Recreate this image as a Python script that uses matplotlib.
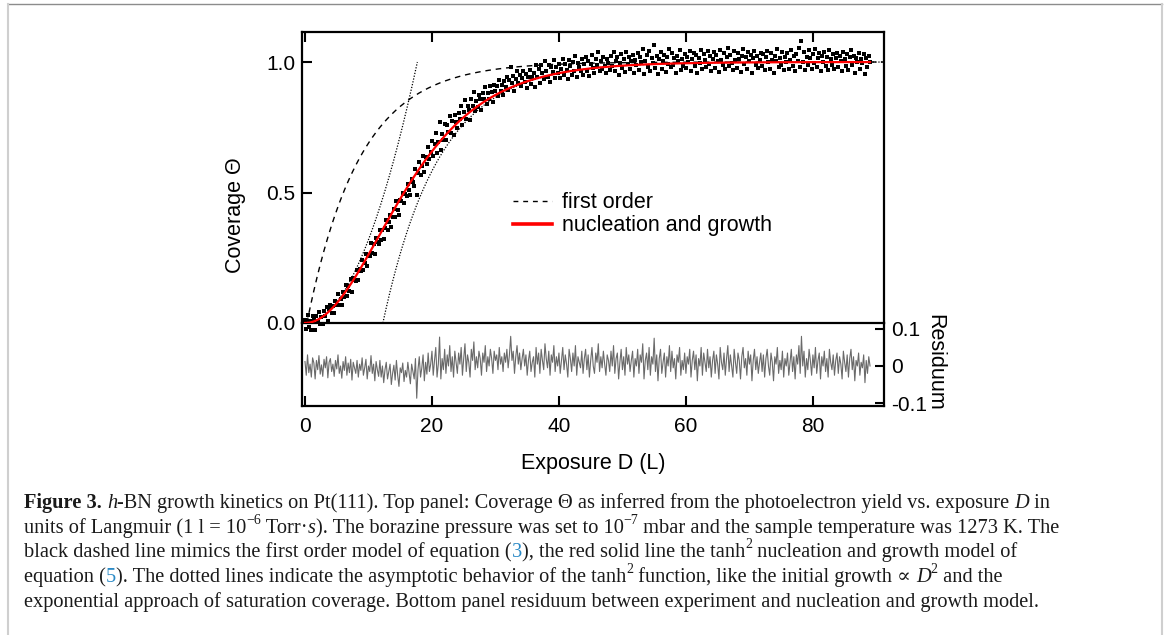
import numpy as np
import matplotlib
matplotlib.use("Agg")
import matplotlib.pyplot as plt
from matplotlib.lines import Line2D

plt.rcParams['font.family'] = ['Liberation Sans', 'DejaVu Sans']

d_start, d_end = 0.0, 89.0
D0 = 17.7          # tanh^2 nucleation and growth constant (L)
tau = 8.3          # first order constant (L)
d_off = 0.3        # first order onset (L)

# residuum (data - nucleation model), in units of 1e-3, every 0.2 L
residuum_milli = [
    12, -25, 30, -18, 5, -30, 22, 8, -35, 15, -10, 28, -22, 3, -28, 18, -5, 25, -32, 10,
    20, -15, 5, -28, 15, -8, 30, -20, 0, -33, 12, -12, 25, -25, 8, -18, 18, -38, 10, -5,
    -20, 15, -30, 5, -12, 22, -25, -5, 18, -35, 0, -15, 28, -20, 5, -40, 12, -10, -28, 15,
    -30, 0, -45, -10, 10, -35, -15, 5, -50, -20, 2, -38, 15, -25, -55, -5, -18, 8, -42, -12,
    -30, 10, -20, -48, 5, -15, -35, 20, -87, -10, 25, -30, -5, 30, -40, 10, -22, 35, -15, 5,
    40, -25, 15, 50, -30, 5, 78, -35, 20, -10, 45, -20, 30, 0, 55, -15, 25, -30, 40, 10,
    -20, 35, 5, 50, -25, 20, 60, -15, 30, 10, -30, 45, 15, 65, -10, 25, -5, 40, 20, -25,
    35, 10, 55, -15, 25, 0, 45, 20, -20, 40, 15, 30, -10, 50, 5, 25, -15, 35, 10, 45,
    -5, 30, 80, 15, 40, -20, 25, 55, 5, 35, -10, 20, 45, 0, 30, -25, 15, 40, -15, 10,
    25, -30, 50, 5, 35, -20, 45, 15, -10, 60, 20, -5, 40, -25, 30, 10, 55, -15, 25, 0,
    35, -20, 15, 50, -10, 30, 5, -30, 45, 20, -15, 35, 0, 55, -25, 25, 10, -5, 40, -20,
    20, 45, -10, 30, -30, 15, 50, 0, -20, 35, 10, 60, -15, 25, -5, 40, 5, -25, 30, 15,
    -15, 40, 0, 55, -20, 20, 35, -35, 10, 45, -10, 25, -25, 50, 5, 30, -15, 15, 40, -30,
    20, 0, 45, -20, 30, 10, 60, -35, 15, 35, -10, 50, -25, 25, 5, 75, -15, 30, -40, 20,
    45, -20, 10, 35, -30, 25, 0, 55, -15, 40, -5, 20, -35, 30, 10, 50, -25, 15, -10, 35,
    -20, 25, 5, 45, -30, 15, 40, -10, 30, -40, 20, 0, 50, -25, 35, 10, -15, 45, -5, 25,
    -30, 15, 40, -20, 30, 5, -35, 50, 10, -10, 35, -25, 20, 55, -15, 30, 0, -30, 45, 10,
    -20, 35, 15, -35, 25, 50, -5, 20, -25, 40, 5, 30, -40, 15, 45, -10, 25, -20, 10, 35,
    -15, 30, -30, 20, 45, 0, -25, 35, 10, -40, 25, 5, 50, -20, 15, -10, 40, -30, 20, 0,
    35, -25, 10, 45, -15, 25, -35, 30, 5, 55, -20, 80, 0, 40, -30, 20, -10, 45, 15, -25,
    30, -5, 50, -20, 15, 35, -35, 25, 0, 40, -15, 20, -30, 45, 10, -10, 30, -25, 15, 35,
    -20, 25, 5, -35, 40, 10, -15, 30, -30, 20, 45, -10, 25, -40, 15, 0, 35, -25, 10, -5,
    30, -45, 15, -20, 25, 0,
]

x_ticks = [0, 20, 40, 60, 80]
cov_ticks = [0.0, 0.5, 1.0]
cov_labels = ['0.0', '0.5', '1.0']
res_ticks = [-0.1, 0.0, 0.1]
res_labels = ['-0.1', '0', '0.1']
legend_labels = ['first order', 'nucleation and growth']

residuum = np.array(residuum_milli) / 1000.0
exposure = np.linspace(d_start, d_end, len(residuum))


def nucleation(d):
    return np.tanh(d / D0) ** 2


coverage = nucleation(exposure) + residuum

d_fine = np.linspace(d_start, d_end, 500)
d_first = np.linspace(d_off, 91.2, 500)
first_order = 1 - np.exp(-(d_first - d_off) / tau)
d_init = np.linspace(0, D0, 200)
init_growth = (d_init / D0) ** 2
d_sat = np.linspace(D0 * np.log(2), 91.2, 300)
sat_approach = 1 - 4 * np.exp(-2 * d_sat / D0)

W, H = 1167, 635
fig = plt.figure(figsize=(W / 100, H / 100), dpi=100)

ax_bot = fig.add_axes([302 / W, 1 - 406 / H, 582 / W, 83 / H])
ax_top = fig.add_axes([302 / W, 1 - 323 / H, 582 / W, 291 / H])
ax_top.set_zorder(3)
ax_top.patch.set_visible(False)

xlim = (-0.47, 91.2)

# top panel
ax_top.plot(d_first, first_order, color='black', lw=1.0, dashes=(4, 3.5))
ax_top.plot(d_init, init_growth, color='black', lw=0.9, dashes=(1, 1.3))
ax_top.plot(d_sat, sat_approach, color='black', lw=0.9, dashes=(1, 1.3))
ax_top.plot(exposure, coverage, 's', color='black', ms=2.5, mew=0, clip_on=False)
ax_top.plot(d_fine, nucleation(d_fine), color='red', lw=1.6)
ax_top.set_xlim(xlim)
ax_top.set_ylim(0, 1.115)
ax_top.set_xticks(x_ticks)
ax_top.set_yticks(cov_ticks)
ax_top.set_yticklabels(cov_labels)
ax_top.tick_params(axis='x', which='both', direction='in', top=True, bottom=False,
                   labeltop=False, labelbottom=False, length=7, width=1.5)
ax_top.tick_params(axis='y', direction='in', left=True, right=False, length=7, width=1.5,
                   labelsize=15, pad=5)
for s in ax_top.spines.values():
    s.set_linewidth(1.6)
ax_top.spines['bottom'].set_visible(False)

handles = [Line2D([0], [0], color='black', lw=1.0, dashes=(3.5, 3.5)),
           Line2D([0], [0], color='red', lw=2.6)]
ax_top.legend(handles, legend_labels, loc='upper left', bbox_to_anchor=(0.3625, 0.449),
              frameon=False, fontsize=15.5, handlelength=1.8, handletextpad=0.5,
              borderpad=0, borderaxespad=0, labelspacing=0.1)

# bottom panel
ax_bot.plot(exposure, residuum, color='#6a6a6a', lw=0.8)
ax_bot.set_xlim(xlim)
ax_bot.set_ylim(-0.108, 0.116)
ax_bot.set_xticks(x_ticks)
ax_bot.set_yticks(res_ticks)
ax_bot.set_yticklabels(res_labels)
ax_bot.yaxis.tick_right()
ax_bot.tick_params(axis='x', direction='in', length=7, width=1.5, labelsize=15, pad=8)
ax_bot.tick_params(axis='y', direction='in', length=6.5, width=1.5, labelsize=15, pad=5)
for s in ax_bot.spines.values():
    s.set_linewidth(1.6)

fig.text(235 / W, 1 - 215 / H, 'Coverage Θ', rotation=90, ha='center', va='center',
         fontsize=15.5)
fig.text(935 / W, 1 - 362 / H, 'Residuum', rotation=-90, ha='center', va='center',
         fontsize=15.5)
fig.text(593 / W, 1 - 463 / H, 'Exposure D (L)', ha='center', va='center', fontsize=15.5)

# frame around figure + caption
fig.add_artist(Line2D([8 / W, 1162 / W], [1 - 4 / H, 1 - 4 / H], color='#8c8c8c', lw=1.0))
fig.add_artist(Line2D([7.5 / W, 7.5 / W], [0, 1 - 4 / H], color='#cfcfcf', lw=1.5))
fig.add_artist(Line2D([1162 / W, 1162 / W], [0, 1 - 4 / H], color='#cfcfcf', lw=1.5))

serif = ['Liberation Serif', 'DejaVu Serif']
cap_size = 14.7
blue = '#2b8ac6'
caption_lines = [
    [('Figure 3.', 'b'), (' ', 'n'), ('h', 'i'),
     ('-BN growth kinetics on Pt(111). Top panel: Coverage Θ as inferred from the '
      'photoelectron yield vs. exposure ', 'n'), ('D', 'i'), (' in', 'n')],
    [('units of Langmuir (1 l = 10', 'n'), ('−6', 's'), (' Torr·', 'n'), ('s', 'i'),
     ('). The borazine pressure was set to 10', 'n'), ('−7', 's'),
     (' mbar and the sample temperature was 1273 K. The', 'n')],
    [('black dashed line mimics the first order model of equation (', 'n'), ('3', 'c'),
     ('), the red solid line the tanh', 'n'), ('2', 's'),
     (' nucleation and growth model of', 'n')],
    [('equation (', 'n'), ('5', 'c'),
     ('). The dotted lines indicate the asymptotic behavior of the tanh', 'n'), ('2', 's'),
     (' function, like the initial growth ∝ ', 'n'), ('D', 'i'), ('2', 's'),
     (' and the', 'n')],
    [('exponential approach of saturation coverage. Bottom panel residuum between '
      'experiment and nucleation and growth model.', 'n')],
]
baselines = [508, 533, 557, 582, 607]

renderer = fig.canvas.get_renderer()


def text_width(s, **kw):
    t = fig.text(0, 0, '|' + s + '|', **kw)
    w1 = t.get_window_extent(renderer).width
    t.remove()
    t = fig.text(0, 0, '||', **kw)
    w2 = t.get_window_extent(renderer).width
    t.remove()
    return w1 - w2


for runs, base in zip(caption_lines, baselines):
    x = 24.0
    for txt, kind in runs:
        kw = dict(family=serif, fontsize=cap_size, color='#1a1a1a')
        dy = 0.0
        if kind == 'b':
            kw['weight'] = 'bold'
        elif kind == 'i':
            kw['style'] = 'italic'
        elif kind == 'c':
            kw['color'] = blue
        elif kind == 's':
            kw['fontsize'] = cap_size * 0.68
            dy = cap_size * 0.42 * 100 / 72
        w = text_width(txt, **kw)
        fig.text(x / W, 1 - (base - dy) / H, txt, ha='left', va='baseline', **kw)
        x += w

fig.savefig('out.png', dpi=100)
